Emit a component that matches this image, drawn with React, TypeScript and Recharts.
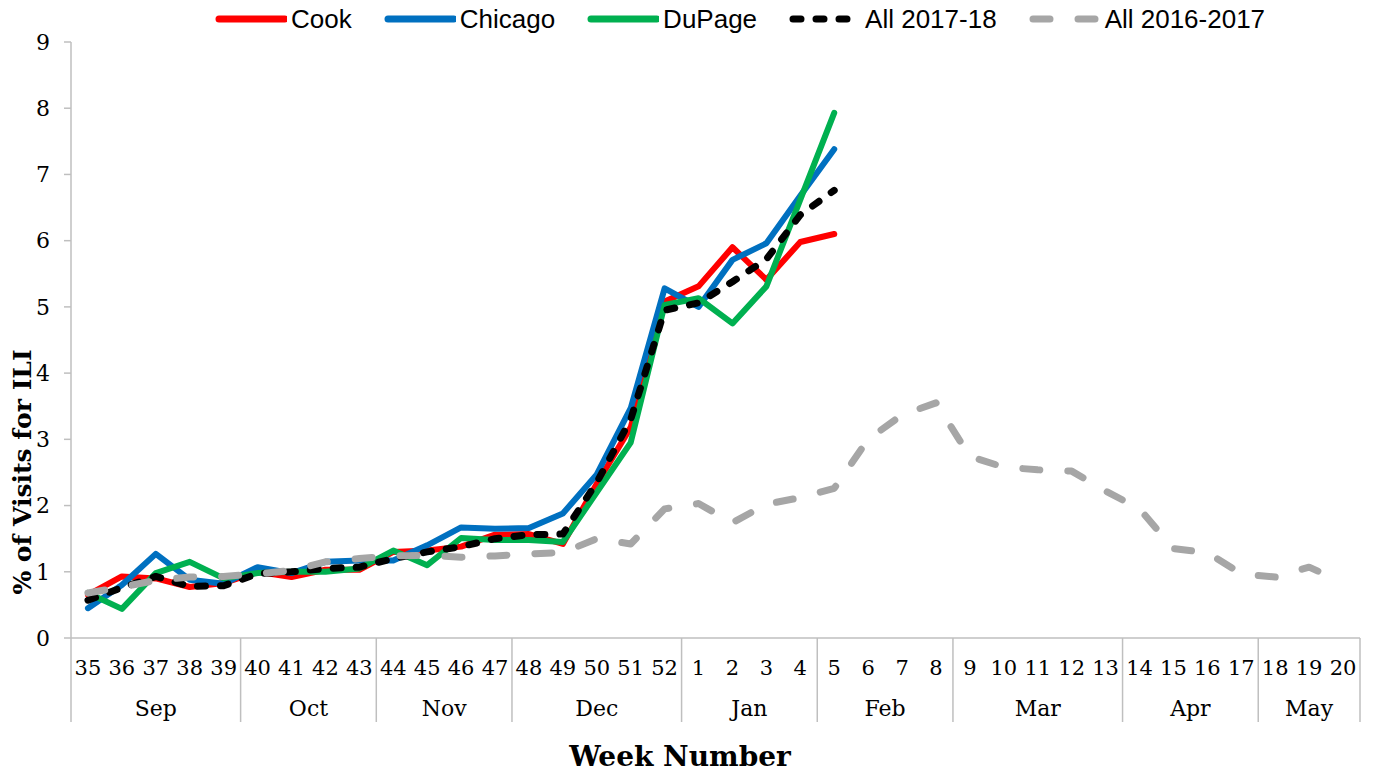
import React from 'react';
import { LineChart, Line, XAxis, YAxis, Legend, Label } from 'recharts';

// week numbers on the x axis, flu season 35 -> 20
const weeks = [
  '35', '36', '37', '38', '39', '40', '41', '42', '43', '44', '45', '46', '47', '48', '49', '50', '51', '52',
  '1', '2', '3', '4', '5', '6', '7', '8', '9', '10', '11', '12', '13', '14', '15', '16', '17', '18', '19', '20',
];
const months = ['Sep', 'Oct', 'Nov', 'Dec', 'Jan', 'Feb', 'Mar', 'Apr', 'May'];
const monthWeeks = [5, 4, 4, 5, 4, 4, 5, 4, 3];

// % of visits for ILI (2017-18 season runs through week 5)
const cook = [0.65, 0.93, 0.9, 0.77, 0.83, 1.0, 0.92, 1.03, 1.03, 1.3, 1.32, 1.38, 1.56, 1.57, 1.42, 2.33, 3.18, 5.08, 5.31, 5.9, 5.41, 5.98, 6.1];
const chicago = [0.45, 0.8, 1.27, 0.88, 0.82, 1.07, 0.98, 1.15, 1.17, 1.17, 1.4, 1.67, 1.65, 1.66, 1.88, 2.47, 3.47, 5.28, 5.0, 5.71, 5.96, 6.68, 7.38];
const dupage = [0.68, 0.44, 0.98, 1.15, 0.9, 0.98, 1.0, 1.0, 1.05, 1.32, 1.1, 1.51, 1.48, 1.48, 1.45, 2.2, 2.95, 5.03, 5.13, 4.75, 5.31, 6.62, 7.93];
const all1718 = [0.57, 0.76, 0.93, 0.78, 0.79, 0.97, 1.0, 1.05, 1.07, 1.2, 1.3, 1.38, 1.5, 1.56, 1.57, 2.35, 3.3, 4.95, 5.06, 5.38, 5.72, 6.39, 6.76];
const all1617 = [
  0.68, 0.77, 0.87, 0.92, 0.93, 0.97, 1.02, 1.15, 1.2, 1.24, 1.25, 1.22, 1.24, 1.27, 1.29, 1.5, 1.42, 1.95,
  2.03, 1.74, 2.02, 2.12, 2.26, 3.0, 3.37, 3.55, 2.74, 2.58, 2.54, 2.52, 2.22, 1.95, 1.35, 1.29, 0.97, 0.92, 1.07, 0.84,
];
const yTicks = [0, 1, 2, 3, 4, 5, 6, 7, 8, 9];

const series = [
  { key: 'cook', name: 'Cook', color: '#FF0000', dash: undefined, width: 6 },
  { key: 'chicago', name: 'Chicago', color: '#0070C0', dash: undefined, width: 6 },
  { key: 'dupage', name: 'DuPage', color: '#00B050', dash: undefined, width: 6 },
  { key: 'all1718', name: 'All 2017-18', color: '#000000', dash: '8 15', width: 7 },
  { key: 'all1617', name: 'All 2016-2017', color: '#A6A6A6', dash: '17 28', width: 7 },
];

const data = weeks.map((week, i) => ({
  week,
  cook: cook[i] ?? null,
  chicago: chicago[i] ?? null,
  dupage: dupage[i] ?? null,
  all1718: all1718[i] ?? null,
  all1617: all1617[i] ?? null,
}));

// layout
const W = 1374;
const H = 776;
const Y_AXIS_W = 71;
const MARGIN = { top: 42, right: 14, left: 0, bottom: 48 };
const PLOT_W = W - MARGIN.left - MARGIN.right - Y_AXIS_W;
const BAND = PLOT_W / weeks.length;
const PAD = { left: BAND / 2, right: BAND / 2 };
const PLOT_BOTTOM = 638;
const SERIF = '"DejaVu Serif", "Liberation Serif", serif';
const GRID = '#bfbfbf';

const monthStart = monthWeeks.map((_, g) => monthWeeks.slice(0, g).reduce((a, b) => a + b, 0));

const WeekTick = (props: any) => {
  const { x, payload } = props;
  return (
    <text x={x} y={668} textAnchor="middle" dominantBaseline="central" fontFamily={SERIF} fontSize={21} fill="#000">
      {payload.value}
    </text>
  );
};

const MonthTick = (props: any) => {
  const { x, payload } = props;
  const i = props.index ?? payload.index;
  const g = monthStart.indexOf(i);
  const parts: React.ReactNode[] = [];
  if (g >= 0) {
    const left = x - BAND / 2;
    parts.push(<line key="l" x1={left} x2={left} y1={PLOT_BOTTOM} y2={722} stroke={GRID} strokeWidth={1.5} />);
    parts.push(
      <text key="t" x={left + (monthWeeks[g] * BAND) / 2} y={708} textAnchor="middle" dominantBaseline="central"
        fontFamily={SERIF} fontSize={22} fill="#000">
        {months[g]}
      </text>
    );
  }
  if (i === weeks.length - 1) {
    const right = x + BAND / 2;
    parts.push(<line key="r" x1={right} x2={right} y1={PLOT_BOTTOM} y2={722} stroke={GRID} strokeWidth={1.5} />);
  }
  return <g>{parts}</g>;
};

const renderLegend = () => (
  <div style={{ display: 'flex', alignItems: 'center', marginLeft: 215, height: 38 }}>
    {series.map((s) => (
      <div key={s.key} style={{ display: 'flex', alignItems: 'center', marginRight: 32 }}>
        <svg width={72} height={12}>
          <line x1={4} x2={70} y1={6} y2={6} stroke={s.color} strokeWidth={7}
            strokeDasharray={s.dash} strokeLinecap="round" />
        </svg>
        <span style={{ fontFamily: '"Liberation Sans", Arial, sans-serif', fontSize: 26, marginLeft: 4, color: '#000' }}>
          {s.name}
        </span>
      </div>
    ))}
  </div>
);

export default function App() {
  return (
    <div style={{ width: W, height: H }}>
      <style>{'body{margin:0}'}</style>
      <LineChart width={W} height={H} data={data} margin={MARGIN}>
        <XAxis dataKey="week" interval={0} tick={<WeekTick />} tickLine={false} padding={PAD}
          axisLine={{ stroke: GRID, strokeWidth: 1.5 }} height={40} />
        <XAxis xAxisId="month" dataKey="week" interval={0} tick={<MonthTick />} tickLine={false} padding={PAD}
          axisLine={false} height={50}>
          <Label
            content={() => (
              <text x={680} y={756} textAnchor="middle" dominantBaseline="central" fontFamily={SERIF}
                fontWeight="bold" fontSize={28} fill="#000">
                Week Number
              </text>
            )}
          />
        </XAxis>
        <YAxis domain={[0, 9]} ticks={yTicks} width={Y_AXIS_W} tickSize={7} tickMargin={14}
          tick={{ fontFamily: SERIF, fontSize: 22, fill: '#000' }}
          tickLine={{ stroke: GRID, strokeWidth: 1.5 }} axisLine={{ stroke: GRID, strokeWidth: 1.5 }}>
          <Label
            content={() => (
              <text transform="translate(22, 472) rotate(-90)" textAnchor="middle" dominantBaseline="central"
                fontFamily={SERIF} fontWeight="bold" fontSize={25} fill="#000">
                % of Visits for ILI
              </text>
            )}
          />
        </YAxis>
        <Legend layout="horizontal" verticalAlign="middle" align="center" content={renderLegend}
          wrapperStyle={{ top: 0, left: 0, width: W, height: 38 }} />
        {series.map((s) => (
          <Line key={s.key} type="linear" dataKey={s.key} name={s.name} stroke={s.color} strokeWidth={s.width}
            strokeDasharray={s.dash} strokeLinecap="round" strokeLinejoin="round" dot={false} activeDot={false}
            isAnimationActive={false} />
        ))}
      </LineChart>
    </div>
  );
}
